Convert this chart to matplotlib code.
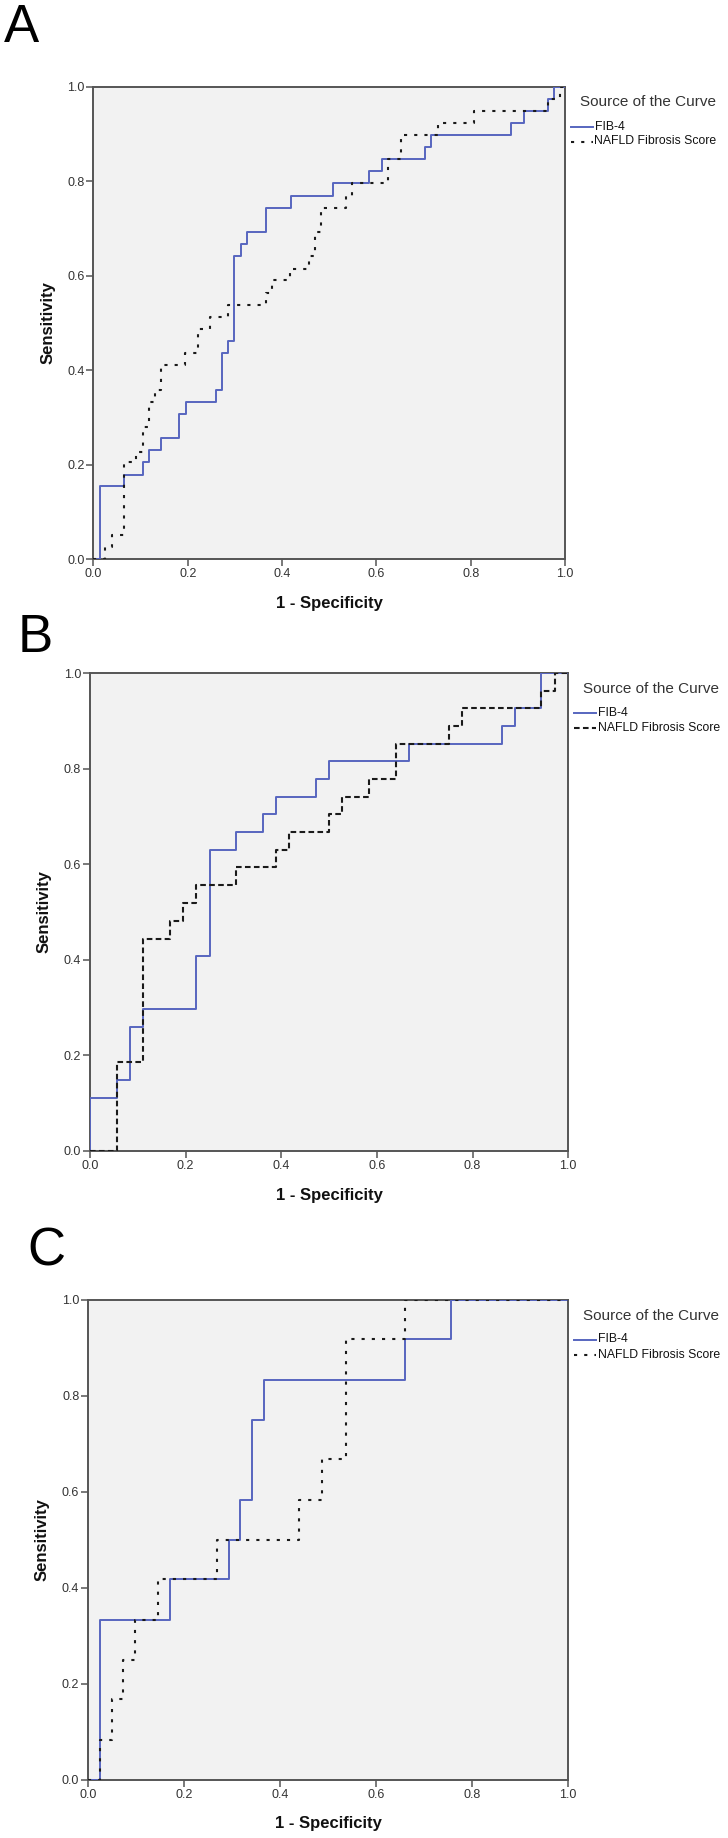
import matplotlib
matplotlib.use("Agg")
import matplotlib.pyplot as plt
from matplotlib.lines import Line2D

plt.rcParams["font.family"] = ["Liberation Sans", "DejaVu Sans"]

# ROC staircase vertices (1 - specificity, sensitivity), drawn as post-steps
fib_a_x = [0, 0.013, 0.064, 0.104, 0.117, 0.143, 0.182, 0.196, 0.260, 0.273, 0.286, 0.299, 0.312,
           0.325, 0.365, 0.418, 0.507, 0.585, 0.612, 0.703, 0.716, 0.886, 0.912, 0.963, 0.976, 1.0]
fib_a_y = [0, 0.154, 0.179, 0.205, 0.231, 0.256, 0.308, 0.333, 0.359, 0.436, 0.462, 0.641, 0.667,
           0.692, 0.744, 0.769, 0.795, 0.821, 0.846, 0.872, 0.897, 0.923, 0.949, 0.974, 1.0, 1.0]
nfs_a_x = [0, 0.025, 0.039, 0.064, 0.090, 0.104, 0.117, 0.130, 0.143, 0.195, 0.222, 0.247, 0.286, 0.365,
           0.378, 0.416, 0.456, 0.469, 0.482, 0.535, 0.548, 0.625, 0.652, 0.730, 0.808, 0.963, 0.99, 1.0]
nfs_a_y = [0, 0.026, 0.051, 0.205, 0.228, 0.280, 0.333, 0.359, 0.410, 0.436, 0.487, 0.513, 0.538, 0.564,
           0.590, 0.615, 0.641, 0.692, 0.744, 0.769, 0.795, 0.846, 0.897, 0.923, 0.949, 0.974, 1.0, 1.0]

fib_b_x = [0, 0, 0.056, 0.083, 0.111, 0.222, 0.250, 0.306, 0.361, 0.389, 0.472, 0.500, 0.667, 0.861,
           0.889, 0.944, 1.0]
fib_b_y = [0, 0.111, 0.148, 0.259, 0.296, 0.407, 0.630, 0.667, 0.704, 0.741, 0.778, 0.815, 0.852, 0.889,
           0.926, 1.0, 1.0]
nfs_b_x = [0, 0.056, 0.111, 0.167, 0.194, 0.222, 0.306, 0.389, 0.417, 0.500, 0.528, 0.583, 0.639, 0.750,
           0.778, 0.944, 0.972, 1.0]
nfs_b_y = [0, 0.185, 0.444, 0.481, 0.519, 0.556, 0.593, 0.630, 0.667, 0.704, 0.741, 0.778, 0.852, 0.889,
           0.926, 0.963, 1.0, 1.0]

fib_c_x = [0, 0.024, 0.171, 0.293, 0.317, 0.341, 0.366, 0.659, 0.756, 1.0]
fib_c_y = [0, 0.333, 0.417, 0.500, 0.583, 0.750, 0.833, 0.917, 1.0, 1.0]
nfs_c_x = [0, 0.024, 0.049, 0.073, 0.098, 0.146, 0.268, 0.439, 0.488, 0.537, 0.659, 1.0]
nfs_c_y = [0, 0.083, 0.167, 0.250, 0.333, 0.417, 0.500, 0.583, 0.667, 0.917, 1.0, 1.0]

panel_labels = ["A", "B", "C"]
ticks = [0.0, 0.2, 0.4, 0.6, 0.8, 1.0]
series_names = ["FIB-4", "NAFLD Fibrosis Score"]

W, H = 728, 1838
fig = plt.figure(figsize=(W / 100, H / 100), dpi=100)

# axes boxes in pixels: left, top, right, bottom
boxes = [(93.5, 86.5, 565, 559.3), (90, 673, 568.2, 1150.8), (88.3, 1299.5, 568.2, 1779.5)]
label_pos = [(4, 42), (18, 652), (27, 1266)]
blue = "#5766bf"
dotted = (0, (1.5, 3.4))
dashed = (0, (2.7, 1.6))
nfs_styles = [dotted, dashed, dotted]

data = [(fib_a_x, fib_a_y, nfs_a_x, nfs_a_y),
        (fib_b_x, fib_b_y, nfs_b_x, nfs_b_y),
        (fib_c_x, fib_c_y, nfs_c_x, nfs_c_y)]

for i, (fx, fy, nx, ny) in enumerate(data):
    l, t, r, b = boxes[i]
    ax = fig.add_axes([l / W, 1 - b / H, (r - l) / W, (b - t) / H])
    ax.set_facecolor("#f2f2f2")
    ax.step(fx, fy, where="post", color=blue, lw=1.4, zorder=3)
    ax.step(nx, ny, where="post", color="#1a1a1a", lw=1.5, linestyle=nfs_styles[i], zorder=4)
    ax.set_xlim(0, 1)
    ax.set_ylim(0, 1)
    ax.set_xticks(ticks)
    ax.set_yticks(ticks)
    ax.set_xticklabels([f"{v:.1f}" for v in ticks])
    ax.set_yticklabels([f"{v:.1f}" for v in ticks])
    ax.tick_params(length=5, width=1.1, color="#555555", labelsize=9, labelcolor="#333333", pad=1.5)
    for s in ax.spines.values():
        s.set_color("#555555")
        s.set_linewidth(1.4)
    ax.set_xlabel("1 - Specificity", fontsize=12, fontweight="bold", color="#111111")
    ax.set_ylabel("Sensitivity", fontsize=12, fontweight="bold", color="#111111")
    ax.xaxis.set_label_coords(0.5, -0.077)
    ax.yaxis.set_label_coords(-0.08, 0.5)

    # legend drawn outside the axes on the right
    fig.text((r + 15) / W, 1 - (t + 16) / H, "Source of the Curve", fontsize=11,
             color="#333333", va="center", ha="left")
    for k, name in enumerate(series_names):
        yy = 1 - (t + 40 + 15 * k) / H
        if k == 0:
            ln = Line2D([(r + 6) / W, (r + 28) / W], [yy, yy], color=blue, lw=1.4,
                        transform=fig.transFigure)
        else:
            ln = Line2D([(r + 6) / W, (r + 28) / W], [yy, yy], color="#1a1a1a", lw=1.5,
                        linestyle=nfs_styles[i], transform=fig.transFigure)
        fig.add_artist(ln)
        fig.text((r + 29.5) / W, yy, name, fontsize=8.8, color="#111111", va="center", ha="left")

    lx, ly = label_pos[i]
    fig.text(lx / W, 1 - ly / H, panel_labels[i], fontsize=38, color="black", ha="left",
             va="baseline")

fig.savefig("out.png", dpi=100)
